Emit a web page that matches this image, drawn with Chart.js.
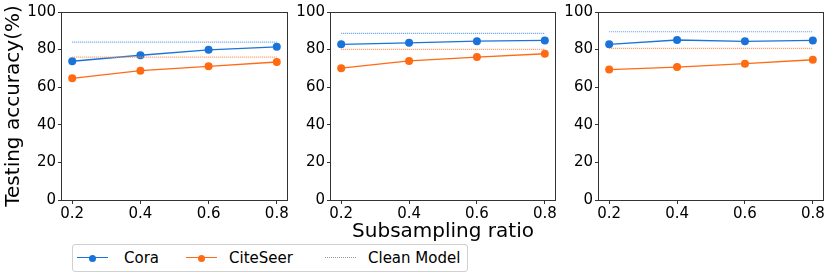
<!DOCTYPE html>
<html>
<head>
<meta charset="utf-8">
<script src="https://cdn.jsdelivr.net/npm/chart.js@4/dist/chart.umd.min.js"></script>
<style>
  body { margin: 0; background: #fff; font-family: "DejaVu Sans", sans-serif; }
  #page { position: relative; width: 831px; height: 278px; overflow: hidden; }
  .box { position: absolute; top: 0; }
  #legend {
    position: absolute; left: 72px; top: 244px; width: 394px; height: 26px;
    border: 1px solid #d0d0d0; border-radius: 3px; font-size: 15px; color: #000;
  }
  .item { position: absolute; top: 0; height: 26px; line-height: 26px; }
  .sw { position: absolute; top: 12px; width: 31px; height: 0; }
  .dot { position: absolute; top: -3.5px; left: 12px; width: 7px; height: 7px; border-radius: 50%; }
</style>
</head>
<body>
<div id="page">
  <div class="box" style="left:0px;width:295px;height:228px"><canvas id="c1"></canvas></div>
  <div class="box" style="left:289px;width:274px;height:244px"><canvas id="c2"></canvas></div>
  <div class="box" style="left:557px;width:274px;height:228px"><canvas id="c3"></canvas></div>
  <div id="legend">
    <div class="item" style="left:4px"><div class="sw" style="border-top:1.5px solid #1a73d8"><div class="dot" style="background:#1a73d8"></div></div><span style="margin-left:47px">Cora</span></div>
    <div class="item" style="left:113px"><div class="sw" style="border-top:1.5px solid #ff6a12"><div class="dot" style="background:#ff6a12"></div></div><span style="margin-left:43px">CiteSeer</span></div>
    <div class="item" style="left:252px"><div class="sw" style="border-top:1px dotted #999"></div><span style="margin-left:43px">Clean Model</span></div>
  </div>
</div>
<script>
// subsampling ratios (x) and accuracies per panel
const ratios = [0.2, 0.4, 0.6, 0.8];
const yTicks = [0, 20, 40, 60, 80, 100];

const cora1 = [73.8, 77.0, 79.9, 81.5];
const citeseer1 = [64.7, 68.8, 71.1, 73.4];
const cora2 = [82.8, 83.6, 84.5, 84.9];
const citeseer2 = [70.1, 74.0, 76.0, 77.8];
const cora3 = [82.8, 85.1, 84.4, 84.9];
const citeseer3 = [69.4, 70.7, 72.5, 74.6];

const cleanCora = [84.0, 88.6, 89.5];
const cleanCiteSeer = [76.0, 80.1, 80.6];

const blue = "#1a73d8";
const orange = "#ff6a12";

Chart.defaults.font.family = "'DejaVu Sans', sans-serif";
Chart.defaults.color = "#000";

// draws the full frame round the plot area
const frame = {
  id: "frame",
  afterDraw(chart) {
    const a = chart.chartArea;
    const ctx = chart.ctx;
    ctx.save();
    ctx.strokeStyle = "#333";
    ctx.lineWidth = 1;
    ctx.strokeRect(Math.round(a.left) - 0.5, Math.round(a.top) + 0.5,
      Math.round(a.right - a.left) + 1, Math.round(a.bottom - a.top));
    ctx.restore();
  }
};

function pts(vals) {
  return vals.map((v, i) => ({ x: ratios[i], y: v }));
}

function flat(v) {
  return ratios.map((r) => ({ x: r, y: v }));
}

function makeChart(id, cora, citeseer, k, opts) {
  const yWidth = opts.yWidth;
  const xHeight = opts.xHeight;
  new Chart(document.getElementById(id), {
    type: "line",
    data: {
      datasets: [
        { label: "Clean Cora", data: flat(cleanCora[k]), borderColor: "#5b9de8",
          borderWidth: 1.2, borderDash: [1, 1], pointRadius: 0 },
        { label: "Clean CiteSeer", data: flat(cleanCiteSeer[k]), borderColor: "#ff9055",
          borderWidth: 1.2, borderDash: [1, 1], pointRadius: 0 },
        { label: "Cora", data: pts(cora), borderColor: blue, backgroundColor: blue,
          borderWidth: 1.3, pointRadius: 4, pointBorderWidth: 0 },
        { label: "CiteSeer", data: pts(citeseer), borderColor: orange, backgroundColor: orange,
          borderWidth: 1.3, pointRadius: 4, pointBorderWidth: 0 }
      ]
    },
    options: {
      responsive: true,
      maintainAspectRatio: false,
      animation: false,
      layout: { padding: { top: 12, right: 8, left: 0, bottom: 0 } },
      plugins: { legend: { display: false }, tooltip: { enabled: false } },
      scales: {
        x: {
          type: "linear",
          min: 0.17,
          max: 0.83,
          afterBuildTicks: (s) => { s.ticks = ratios.map((v) => ({ value: v })); },
          afterFit: (s) => { s.height = xHeight; },
          ticks: { font: { size: 15 }, padding: 1, maxRotation: 0,
            callback: (v) => v.toFixed(1) },
          grid: { drawOnChartArea: false, tickLength: 4, color: "#333" },
          border: { display: false },
          title: { display: !!opts.xTitle, text: opts.xTitle, font: { size: 20 },
            padding: { top: 0, bottom: 0 } }
        },
        y: {
          min: 0,
          max: 100,
          afterBuildTicks: (s) => { s.ticks = yTicks.map((v) => ({ value: v })); },
          afterFit: (s) => { s.width = yWidth; },
          ticks: { font: { size: 15 }, padding: 2 },
          grid: { drawOnChartArea: false, tickLength: 4, color: "#333" },
          border: { display: false },
          title: { display: !!opts.yTitle, text: opts.yTitle, font: { size: 20 },
            padding: { top: 2, bottom: 0 } }
        }
      }
    },
    plugins: [frame]
  });
}

makeChart("c1", cora1, citeseer1, 0, { yWidth: 62, xHeight: 28, yTitle: "Testing accuracy(%)" });
makeChart("c2", cora2, citeseer2, 1, { yWidth: 42, xHeight: 44, xTitle: "Subsampling ratio" });
makeChart("c3", cora3, citeseer3, 2, { yWidth: 42, xHeight: 28 });
</script>
</body>
</html>
